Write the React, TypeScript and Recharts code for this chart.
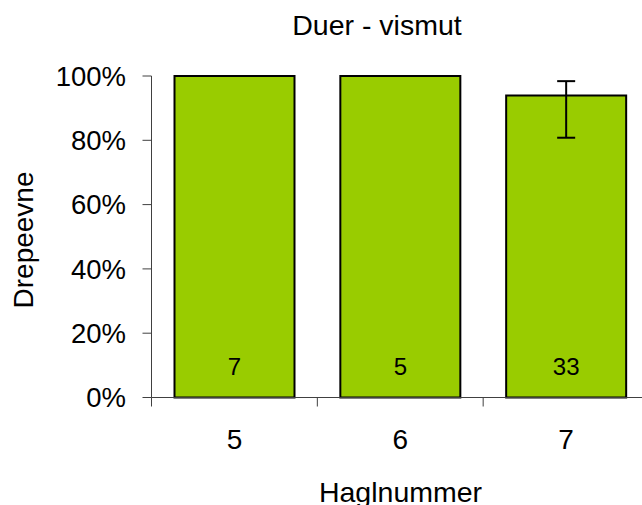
import React from "react";
import {
  BarChart,
  Bar,
  XAxis,
  YAxis,
  ErrorBar,
  LabelList,
} from "recharts";

const categories = ["5", "6", "7"];
const killRate = [1, 1, 0.939];
const ciLower: (number | null)[] = [null, null, 0.808];
const ciUpper: (number | null)[] = [null, null, 0.984];
const sampleSizes = [7, 5, 33];
const yTicks = [0, 0.2, 0.4, 0.6, 0.8, 1];

const FONT = "'Liberation Sans', Arial, sans-serif";
const AXIS = "#404040";

const data = categories.map((hagl, i) => {
  const lo = ciLower[i];
  const hi = ciUpper[i];
  return {
    hagl,
    rate: killRate[i],
    n: sampleSizes[i],
    err: lo == null || hi == null ? null : [killRate[i] - lo, hi - killRate[i]],
  };
});

const XTick = (props: any) => {
  const { x, y, payload, index } = props;
  const half = payload?.offset ?? 0;
  return (
    <g>
      <line x1={x - half} x2={x - half} y1={y} y2={y + 9} stroke={AXIS} />
      {index === categories.length - 1 && (
        <line x1={x + half} x2={x + half} y1={y} y2={y + 9} stroke={AXIS} />
      )}
      <text
        x={x}
        y={y + 51.5}
        textAnchor="middle"
        fontSize={28}
        fontFamily={FONT}
        fill="#000"
      >
        {payload.value}
      </text>
    </g>
  );
};

export default function App() {
  return (
    <div
      style={{
        position: "absolute",
        left: 0,
        top: 0,
        width: 642,
        height: 505,
        overflow: "hidden",
        background: "#fff",
      }}
    >
      <BarChart
        width={660}
        height={505}
        data={data}
        margin={{ top: 76, right: 11, bottom: 0, left: 0 }}
        barCategoryGap={23}
      >
        <XAxis
          dataKey="hagl"
          height={107.5}
          axisLine={{ stroke: AXIS }}
          tickLine={false}
          tickSize={0}
          tickMargin={0}
          tick={<XTick />}
          interval={0}
          label={{
            content: () => (
              <text
                x={400.5}
                y={502}
                textAnchor="middle"
                fontSize={28.5}
                fontFamily={FONT}
                fill="#000"
              >
                Haglnummer
              </text>
            ),
          }}
        />
        <YAxis
          width={151.5}
          domain={[0, 1]}
          ticks={yTicks}
          tickFormatter={(v: number) => `${Math.round(v * 100)}%`}
          axisLine={{ stroke: AXIS }}
          tickLine={{ stroke: AXIS }}
          tickSize={9}
          tickMargin={16.5}
          tick={{ fontSize: 27.5, fontFamily: FONT, fill: "#000" }}
          label={{
            content: () => (
              <g>
                <text
                  x={377}
                  y={35}
                  textAnchor="middle"
                  fontSize={28.5}
                  fontFamily={FONT}
                  fill="#000"
                >
                  Duer - vismut
                </text>
                <text
                  x={33}
                  y={240}
                  transform="rotate(-90 33 240)"
                  textAnchor="middle"
                  fontSize={28}
                  fontFamily={FONT}
                  fill="#000"
                >
                  Drepeevne
                </text>
              </g>
            ),
          }}
        />
        <Bar
          dataKey="rate"
          fill="#99CC00"
          stroke="#000"
          strokeWidth={2}
          isAnimationActive={false}
        >
          <LabelList
            dataKey="n"
            position="insideBottom"
            offset={22.5}
            fontSize={24}
            fontFamily={FONT}
            fill="#000"
            stroke="none"
          />
          <ErrorBar
            dataKey="err"
            width={9}
            stroke="#000"
            strokeWidth={2}
            isAnimationActive={false}
          />
        </Bar>
      </BarChart>
    </div>
  );
}
